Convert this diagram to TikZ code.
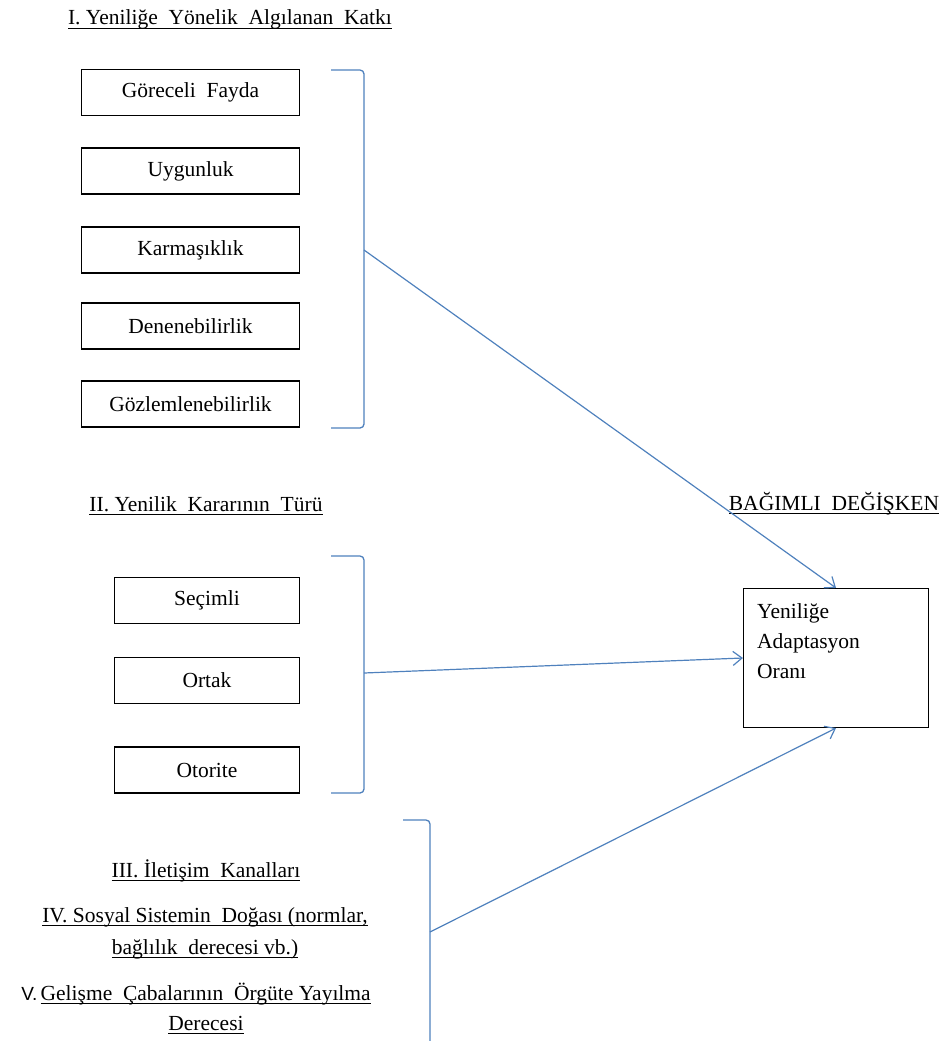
\documentclass[tikz,border=0pt]{standalone}
\usepackage{fontspec}
\setmainfont{Liberation Serif}
\setsansfont{Liberation Sans}
\usetikzlibrary{arrows.meta}
\definecolor{lineblue}{RGB}{79,129,189}
\newcommand\myul[1]{\setbox0\hbox{#1}\rlap{\rule[-4.3pt]{\wd0}{1.4pt}}\box0}
\begin{document}
\begin{tikzpicture}[x=1pt,y=-1pt,
  fnt/.style={font=\fontsize{21.5}{24}\selectfont},
  boxA/.style={draw, line width=1.1pt, minimum width=218pt, minimum height=46pt, inner sep=0pt, fnt},
  boxB/.style={draw, line width=1.1pt, minimum width=185pt, minimum height=46pt, inner sep=0pt, fnt},
  title/.style={anchor=base, inner sep=0pt, fnt},
  brack/.style={draw=lineblue, line width=1.3pt, rounded corners=4pt},
  conn/.style={draw=lineblue, line width=1.2pt, -{Straight Barb[length=9pt,width=14pt,line width=1.2pt]}}]
\useasboundingbox (0,0) rectangle (951,1041);
% titles
\node[title] (t1) at (230,25) {\myul{I. Yeniliğe~~Yönelik~~Algılanan~~Katkı}};
\node[title] (t2) at (206,511) {\myul{II. Yenilik~~Kararının~~Türü}};
\node[title] (tdep) at (834,510) {\myul{BAĞIMLI~~DEĞİŞKEN}};
% group I boxes
\node[boxA] (g1) at (190.5,92.5) {Göreceli~~Fayda};
\node[boxA] (g2) at (190.5,171) {Uygunluk};
\node[boxA] (g3) at (190.5,250) {Karmaşıklık};
\node[boxA] (g4) at (190.5,326) {Denenebilirlik};
\node[boxA] (g5) at (190.5,404) {Gözlemlenebilirlik};
% group II boxes
\node[boxB] (h1) at (207,600.5) {Seçimli};
\node[boxB] (h2) at (207,680.5) {Ortak};
\node[boxB] (h3) at (207,770) {Otorite};
% target
\node[draw, line width=1.1pt, minimum width=185pt, minimum height=139pt, inner sep=0pt] (tgt) at (836,658) {};
\node[anchor=north west, inner sep=0pt, align=left, font=\fontsize{21.5}{30}\selectfont] (tgttext) at (757,603) {Yeniliğe\\Adaptasyon\\Oranı};
% lower texts
\node[title] (t3) at (206,877) {\myul{III. İletişim~~Kanalları}};
\node[title] (t4a) at (205,922) {\myul{IV. Sosyal Sistemin~~Doğası (normlar,}};
\node[title] (t4b) at (205,954) {\myul{bağlılık~~derecesi vb.)}};
\node[title] (t5a) at (196,1000) {{\sffamily\fontsize{19}{22}\selectfont V.\,}\myul{Gelişme~~Çabalarının~~Örgüte Yayılma}};
\node[title] (t5b) at (206,1030) {\myul{Derecesi}};
% brackets
\draw[brack] (331,70) -- (364,70) -- (364,428) -- (331,428);
\coordinate (b1) at (364,250);
\draw[brack] (331,556) -- (364,556) -- (364,793) -- (331,793);
\coordinate (b2) at (364,673);
\draw[brack] (403,820) -- (430,820) -- (430,1045);
\coordinate (b3) at (430,932);
% connectors
\draw[conn] (b1) -- (tgt.north);
\draw[conn] (b2) -- (tgt.west);
\draw[conn] (b3) -- (tgt.south);
\end{tikzpicture}
\end{document}
